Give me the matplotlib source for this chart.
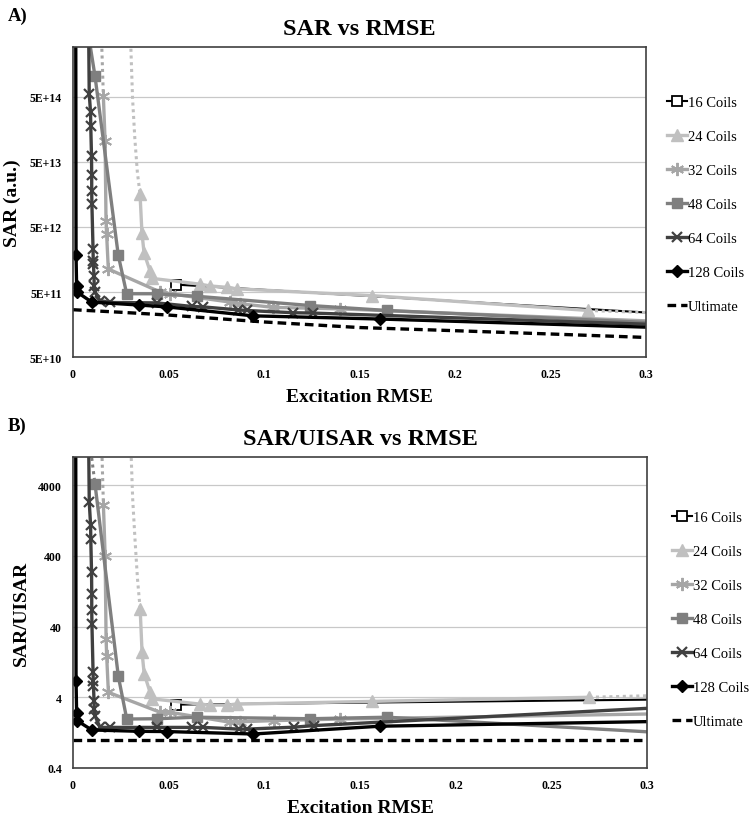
import matplotlib.pyplot as plt
from matplotlib.ticker import FixedLocator, FixedFormatter, NullLocator

plt.rcParams['font.family'] = ['Liberation Serif', 'DejaVu Serif']

# ---------------- panel A: SAR (a.u.) ----------------
x16 = [0.0538, 0.30]
a16 = [6.5e11, 2.42e11]

x24 = [0.0351, 0.0361, 0.0372, 0.0403, 0.0414, 0.0665, 0.0717, 0.0805, 0.0857, 0.1564, 0.2698]
a24 = [1.61e13, 4.1e12, 2.0e12, 1.06e12, 8.1e11, 6.6e11, 6.2e11, 5.9e11, 5.6e11, 4.4e11, 2.6e11]
x24_head = [0.0302, 0.0312, 0.0324, 0.0337, 0.0351]
a24_head = [3.5e15, 4.7e14, 1.13e14, 3.5e13, 1.61e13]
x24_tail = [0.2698, 0.30]
a24_tail = [2.6e11, 2.42e11]

x32 = [0.0159, 0.0168, 0.0173, 0.0176, 0.0185, 0.0456, 0.0508, 0.0822, 0.0874, 0.1049, 0.1398, 0.30]
a32 = [5.2e14, 1.06e14, 6.2e12, 3.9e12, 1.13e12, 5.0e11, 4.7e11, 3.5e11, 3.3e11, 2.9e11, 2.75e11, 1.8e11]
x32_head = [0.0150, 0.0159]
a32_head = [3.5e15, 5.2e14]

x48 = [0.0089, 0.0115, 0.0237, 0.0281, 0.0440, 0.0648, 0.1241, 0.1643, 0.30]
a48 = [3.2e15, 1.06e15, 1.85e12, 4.7e11, 4.7e11, 4.3e11, 3.1e11, 2.6e11, 1.7e11]

x64 = [0.0082, 0.0085, 0.0092, 0.0093, 0.0097, 0.0098, 0.0098, 0.0099, 0.0105, 0.0106, 0.0107,
       0.0110, 0.0111, 0.0115, 0.0141, 0.0194, 0.0438, 0.0622, 0.0682, 0.0866, 0.0909, 0.1153, 0.1258, 0.30]
a64 = [5e15, 5.6e14, 2.9e14, 1.8e14, 6.2e13, 3.1e13, 1.8e13, 1.13e13, 2.3e12, 1.5e12, 1.35e12,
       8.9e11, 6.2e11, 4.95e11, 3.7e11, 3.45e11, 3.4e11, 3.0e11, 2.95e11, 2.65e11, 2.6e11, 2.4e11, 2.37e11, 1.6e11]

x128 = [0.0014, 0.0016, 0.0019, 0.0021, 0.0098, 0.0346, 0.0492, 0.0942, 0.1607, 0.30]
a128 = [1e17, 1.85e12, 6.2e11, 5.0e11, 3.5e11, 3.15e11, 2.95e11, 2.15e11, 1.92e11, 1.44e11]

x_ult = [0.0, 0.025, 0.05, 0.1, 0.15, 0.2, 0.25, 0.3]
a_ult = [2.67e11, 2.44e11, 2.21e11, 1.73e11, 1.42e11, 1.27e11, 1.13e11, 1.0e11]

# ---------------- panel B: SAR/UISAR ----------------
b16 = [3.15, 3.70]
b24 = [71, 17.3, 8.6, 4.7, 3.8, 3.2, 3.1, 3.1, 3.2, 3.5, 4.0]
b24_head = [1.5e4, 2550, 690, 190, 71]
b24_tail = [4.0, 4.2]
b32 = [2100, 403, 26.7, 15.5, 4.7, 2.45, 2.45, 1.77, 1.8, 1.87, 1.97, 2.32]
b32_head = [1.5e4, 2100]
x48b = [0.0115, 0.0237, 0.0281, 0.0440, 0.0648, 0.1241, 0.1643, 0.30]
b48 = [4160, 7.9, 1.97, 1.99, 2.09, 1.99, 2.09, 1.30]
x48b_head = [0.0089, 0.0115]
b48_head = [1.5e4, 4160]
b64 = [1.5e4, 2290, 1090, 690, 234, 116, 69, 43.5, 9.0, 6.9, 5.8,
       3.6, 2.7, 2.2, 1.5, 1.5, 1.5, 1.5, 1.5, 1.42, 1.42, 1.51, 1.59, 2.79]
b128 = [1e5, 6.9, 2.4, 1.87, 1.38, 1.32, 1.31, 1.21, 1.56, 1.81]
b_ult = [1.0, 1.0, 1.0, 1.0, 1.0, 1.0, 1.0, 1.0]

labels = ['16 Coils', '24 Coils', '32 Coils', '48 Coils', '64 Coils', '128 Coils', 'Ultimate']
styles = [
    dict(color='black', marker='s', mfc='white', mec='black', ms=6.5, mew=1.3, lw=1.5),
    dict(color='#c0c0c0', marker='^', ms=8, lw=2.4),
    dict(color='#a6a6a6', marker=(6, 2, 0), ms=9.5, mew=1.4, lw=2.4),
    dict(color='#7f7f7f', marker='s', ms=7, lw=2.4),
    dict(color='#404040', marker='x', ms=7.5, mew=1.6, lw=2.4),
    dict(color='black', marker='D', ms=6.5, lw=2.4),
    dict(color='black', ls=(0, (2.6, 1.5)), lw=2.4),
]
dots = (0, (1, 1.2))


def visible(x, y, ytop):
    return [i for i, (xx, yy) in enumerate(zip(x, y)) if xx < 0.299 and yy < ytop]


def draw(ax, series, heads, tails, ytop):
    handles = []
    for (x, y), st, lab in zip(series, styles, labels):
        if 'marker' in st:
            h, = ax.plot(x, y, label=lab, markevery=visible(x, y, ytop), **st)
        else:
            h, = ax.plot(x, y, label=lab, **st)
        handles.append(h)
    for x, y, c in heads + tails:
        ax.plot(x, y, color=c, lw=2.2, ls=dots)
    return handles


def style_axes(ax, yticks, yticklabels, ylim):
    ax.set_yscale('log')
    ax.set_xlim(0, 0.3)
    ax.set_ylim(*ylim)
    ax.yaxis.set_major_locator(FixedLocator(yticks))
    ax.yaxis.set_major_formatter(FixedFormatter(yticklabels))
    ax.yaxis.set_minor_locator(NullLocator())
    ax.set_xticks([0, 0.05, 0.1, 0.15, 0.2, 0.25, 0.3])
    ax.set_xticklabels(['0', '0.05', '0.1', '0.15', '0.2', '0.25', '0.3'])
    ax.grid(axis='y', color='#c8c8c8', lw=0.9)
    ax.set_axisbelow(True)
    ax.tick_params(length=0, labelsize=8.5, pad=8)
    for t in ax.get_xticklabels() + ax.get_yticklabels():
        t.set_fontweight('bold')
    for s in ax.spines.values():
        s.set_color('#404040')
        s.set_linewidth(1.2)
    ax.set_xlabel('Excitation RMSE', fontsize=14, fontweight='bold', labelpad=6)


fig = plt.figure(figsize=(7.54, 8.2), dpi=100)
axA = fig.add_axes([0.0968, 0.5634, 0.7599, 0.3781])
axB = fig.add_axes([0.0968, 0.0622, 0.7613, 0.3793])

ytopA = 2.94e15
hA = draw(axA,
          [(x16, a16), (x24, a24), (x32, a32), (x48, a48), (x64, a64), (x128, a128), (x_ult, a_ult)],
          [(x24_head, a24_head, '#c0c0c0'), (x32_head, a32_head, '#a6a6a6')],
          [(x24_tail, a24_tail, '#c0c0c0')], ytopA)
style_axes(axA, [5e10, 5e11, 5e12, 5e13, 5e14], ['5E+10', '5E+11', '5E+12', '5E+13', '5E+14'], (5e10, ytopA))
axA.set_ylabel('SAR (a.u.)', fontsize=14, fontweight='bold', labelpad=6)
axA.set_title('SAR vs RMSE', fontsize=17.5, fontweight='bold', pad=9)

ytopB = 1.0e4
hB = draw(axB,
          [(x16, b16), (x24, b24), (x32, b32), (x48b, b48), (x64, b64), (x128, b128), (x_ult, b_ult)],
          [(x24_head, b24_head, '#c0c0c0'), (x32_head, b32_head, '#a6a6a6'),
           (x48b_head, b48_head, '#7f7f7f')],
          [(x24_tail, b24_tail, '#c0c0c0')], ytopB)
style_axes(axB, [0.4, 4, 40, 400, 4000], ['0.4', '4', '40', '400', '4000'], (0.4, ytopB))
axB.set_ylabel('SAR/UISAR', fontsize=14, fontweight='bold', labelpad=6)
axB.set_title('SAR/UISAR vs RMSE', fontsize=17.5, fontweight='bold', pad=9)

leg_kw = dict(loc='upper left', frameon=False, fontsize=10.5, handlelength=1.35,
              handletextpad=0.1, labelspacing=1.42, borderpad=0, borderaxespad=0,
              bbox_transform=fig.transFigure)
fig.legend(hA, labels, bbox_to_anchor=(667 / 754, 1 - 97 / 820), **leg_kw)
fig.legend(hB, labels, bbox_to_anchor=(672 / 754, 1 - 512 / 820), **leg_kw)

fig.text(8 / 754, 1 - 16 / 820, 'A)', fontsize=13.5, fontweight='bold', va='center')
fig.text(8 / 754, 1 - 426 / 820, 'B)', fontsize=13.5, fontweight='bold', va='center')

fig.savefig('out.png', dpi=100)
